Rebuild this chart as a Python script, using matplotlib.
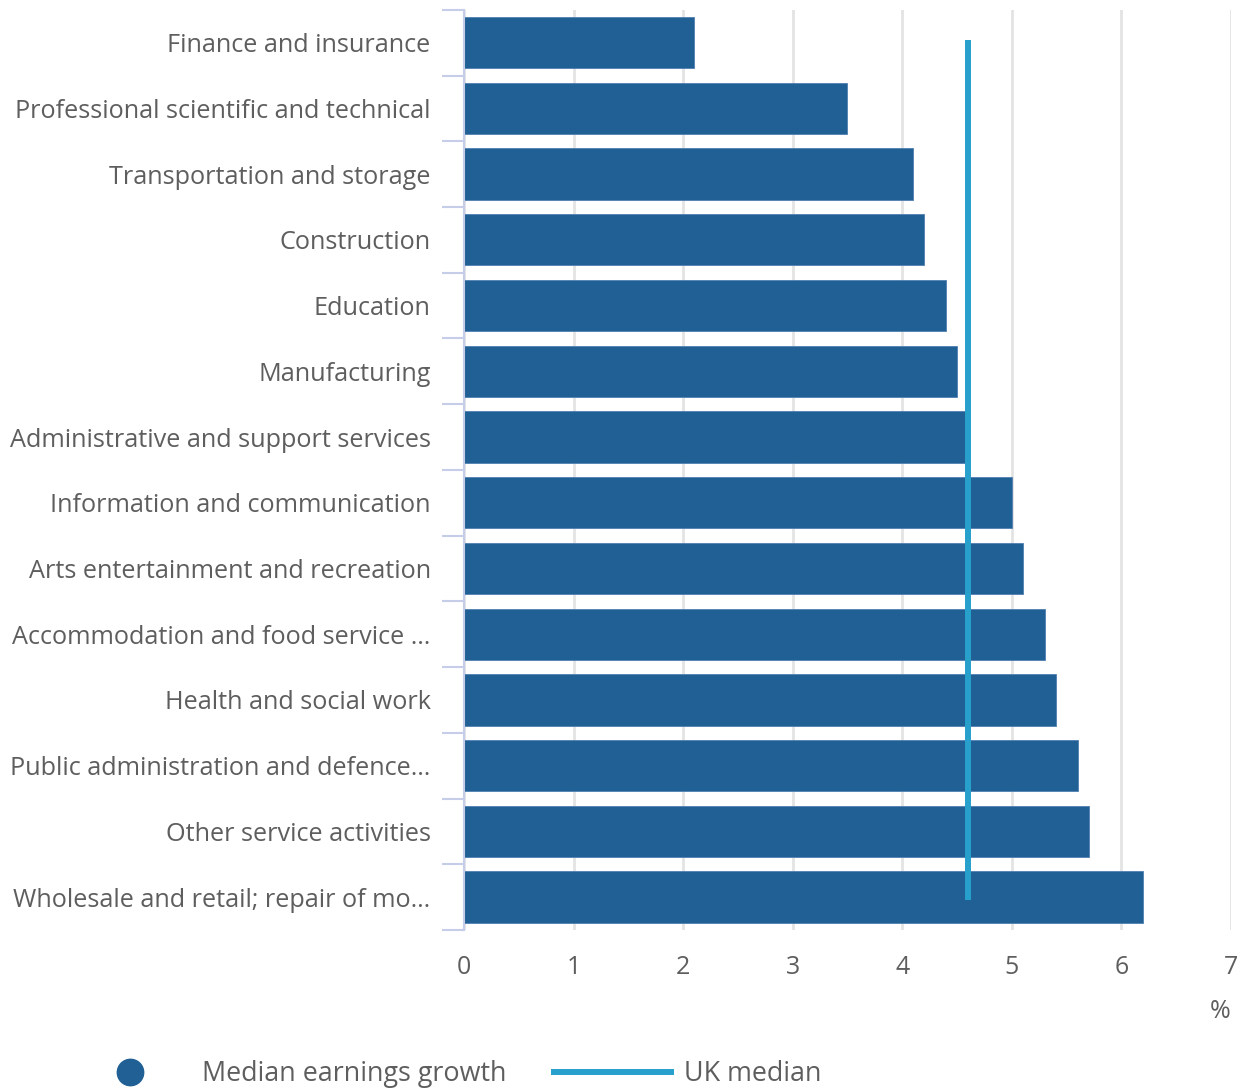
import matplotlib.pyplot as plt
from matplotlib.lines import Line2D

# --- Données ---
industries = [
    "Finance and insurance",
    "Professional scientific and technical",
    "Transportation and storage",
    "Construction",
    "Education",
    "Manufacturing",
    "Administrative and support services",
    "Information and communication",
    "Arts entertainment and recreation",
    "Accommodation and food service \u2026",
    "Health and social work",
    "Public administration and defence\u2026",
    "Other service activities",
    "Wholesale and retail; repair of mo\u2026",
]
growth = [2.1, 3.5, 4.1, 4.2, 4.4, 4.5, 4.6, 5.0, 5.1, 5.3, 5.4, 5.6, 5.7, 6.2]
uk_median = 4.6

bar_color = '#206095'
line_color = '#27a0cc'
text_color = '#5e5e5e'

plt.rcParams['font.family'] = ['Open Sans', 'DejaVu Sans']

fig = plt.figure(figsize=(12.44, 10.91), dpi=100)
ax = fig.add_axes([0.373, 0.1476, 0.6165, 0.8434])

pos = list(range(len(industries)))
ax.barh(pos, growth, height=0.78, color=bar_color, edgecolor='#4f7fb0', linewidth=0.6, zorder=2)

# Ligne de la médiane UK
ax.plot([uk_median, uk_median], [pos[0], pos[-1]], color=line_color, linewidth=4.3, zorder=3)

ax.set_ylim(len(industries) - 0.5, -0.5)
ax.set_xlim(0, 7)
ax.set_xticks(range(8))
ax.set_yticks(pos)
ax.set_yticklabels(industries)
ax.set_yticks([p - 0.5 for p in pos] + [len(pos) - 0.5], minor=True)

ax.tick_params(axis='y', which='major', length=0, pad=24, labelsize=18.2, labelcolor=text_color)
ax.tick_params(axis='y', which='minor', length=16, width=1.5, color='#c5cde8', direction='out')
ax.tick_params(axis='x', length=0, pad=18, labelsize=18, labelcolor=text_color)

for s in ['top', 'right', 'bottom']:
    ax.spines[s].set_visible(False)
ax.spines['left'].set_color('#c5cde8')
ax.spines['left'].set_linewidth(1.5)

ax.grid(axis='x', color='#e3e3e3', linewidth=2, zorder=0)
ax.set_axisbelow(True)

ax.set_xlabel('%', loc='right', fontsize=18, color=text_color, labelpad=14)

# Légende
handles = [
    Line2D([], [], marker='o', linestyle='none', markersize=19, color=bar_color),
    Line2D([], [], color=line_color, linewidth=4.3),
]
fig.legend(handles, ['Median earnings growth', 'UK median'], loc='center left',
           bbox_to_anchor=(0.058, 0.0155), ncol=2, frameon=False, fontsize=19.4,
           labelcolor=text_color, handlelength=4.33, handletextpad=0.5,
           columnspacing=1.75, borderpad=0, borderaxespad=0)

plt.savefig('out.png', dpi=100)
